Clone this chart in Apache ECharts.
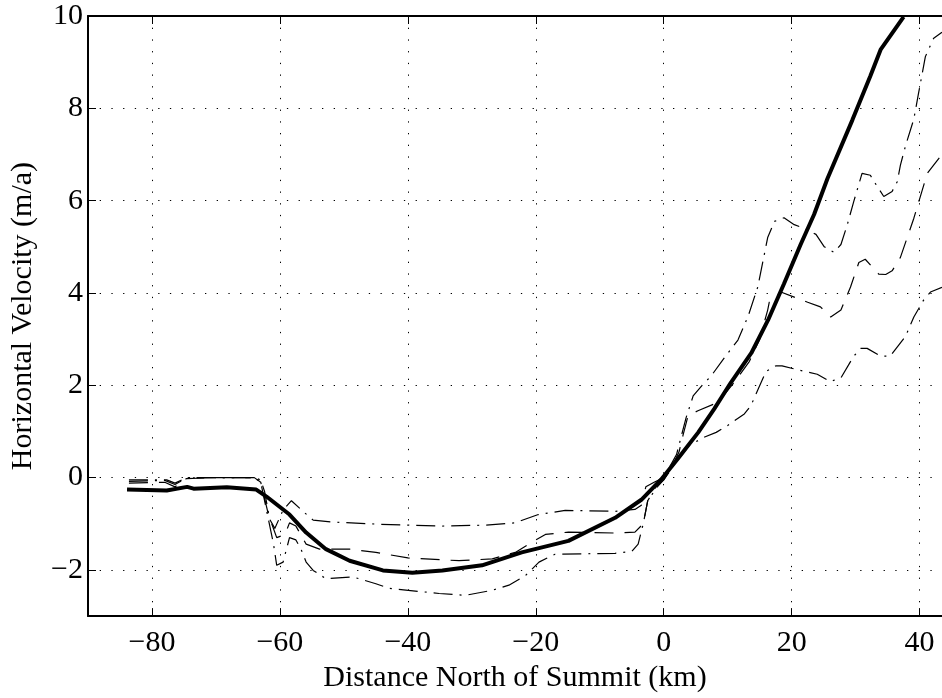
<!DOCTYPE html>
<html>
<head>
<meta charset="utf-8">
<script src="https://cdn.jsdelivr.net/npm/echarts@6/dist/echarts.min.js"></script>
<style>
html,body{margin:0;padding:0;background:#fff;}
#chart{width:942px;height:698px;}
</style>
</head>
<body>
<div id="chart"></div>
<script>
// ---- data ----
const xTicks = [-80, -60, -40, -20, 0, 20, 40];
const yTicks = [-2, 0, 2, 4, 6, 8, 10];

// thick solid line
const mainX = [-83.9,-77.7,-74.5,-73.5,-68.3,-63.7,-62.1,-58.5,-55.9,-52.8,-49.1,-43.9,-39.3,-34.6,-28.4,-22.2,-14.9,-7.6,-3.5,-0.4,2.2,5.4,7.9,10.5,13.7,16.3,18.8,21.4,23.5,25.6,29.5,32.3,33.9,37.5];
const mainY = [-0.26,-0.28,-0.2,-0.24,-0.21,-0.26,-0.41,-0.8,-1.19,-1.55,-1.8,-2.01,-2.06,-2.01,-1.9,-1.62,-1.37,-0.87,-0.48,-0.04,0.41,0.98,1.49,2.06,2.7,3.41,4.2,5.05,5.7,6.48,7.75,8.7,9.27,9.98];

// thin dash-dot line (upper)
const aX = [-83.6,-77.7,-76.4,-74.6,-70,-64,-63,-62.4,-61.6,-60.8,-59.5,-58.2,-56.4,-54.8,-52,-44.5,-35,-28,-23.3,-19.6,-15.4,-7.6,-4.5,-3.5,-2.8,-1.5,0,2,3.5,4.6,6,7.4,9.5,11.6,13.2,14.7,16.25,17.3,18.8,20.4,22,23.8,25.1,26.6,27.7,28.7,29.7,31,32.3,32.9,34.4,35.7,36.5,37,37.8,39.1,39.8,40.9,42.2,43.5];
const aY = [-0.05,-0.05,-0.12,0,0,0,-0.05,-0.3,-0.9,-1.1,-0.7,-0.5,-0.73,-0.92,-0.96,-1.01,-1.05,-1.03,-0.98,-0.8,-0.71,-0.73,-0.69,-0.6,-0.2,-0.1,0.0,0.5,1.3,1.77,2.0,2.2,2.6,2.98,3.5,4.13,5.2,5.55,5.63,5.48,5.4,5.27,5.0,4.88,5.05,5.48,5.98,6.59,6.55,6.41,6.09,6.2,6.41,6.77,7.19,7.77,8.3,9.12,9.52,9.65];

// thin dashed line (middle)
const bX = [-83.6,-78,-76.4,-74.6,-70,-64,-63,-61.8,-60.5,-59.2,-58.5,-57.5,-55.9,-53.8,-49.1,-45,-40,-32,-26.8,-23.2,-21.1,-18.5,-14.9,-7.6,-4.5,-3.2,-2.5,-1.2,0,1.5,2.4,3,3.8,5.35,8.5,11,13.4,15,16.25,16.5,18.3,20.4,22.5,24.5,26.1,27.7,29.2,30.5,31.5,33.6,34.7,35.7,37,39.1,41.2,43.5];
const bY = [-0.12,-0.1,-0.2,-0.02,0,0,-0.1,-0.8,-1.3,-1.23,-0.98,-1.05,-1.44,-1.55,-1.55,-1.62,-1.74,-1.8,-1.76,-1.62,-1.44,-1.23,-1.18,-1.2,-1.18,-1.0,-0.5,-0.2,-0.05,0.3,0.56,0.91,1.34,1.45,1.63,2.06,2.52,3.0,3.63,3.8,4.02,3.91,3.8,3.7,3.48,3.63,4.13,4.66,4.73,4.41,4.4,4.48,4.77,5.62,6.59,7.0];

// thin dash-dot line (lower)
const cX = [-83.6,-78,-76.4,-74.6,-70,-64,-63,-62.4,-61,-60.5,-59.5,-58.5,-57.5,-56.7,-55.9,-54.8,-52.8,-48.6,-45,-42.9,-35.1,-31,-26.8,-24.2,-21.6,-19.5,-17,-7.6,-5,-4,-3.2,-2.5,-1,0,2,4,6.4,8.2,10,12.6,13.6,14.7,16,17.5,18.5,21.7,24,26,27.7,29.7,30.8,31.8,33.9,35.4,37.8,39.1,40.6,41.7,43.5];
const cY = [-0.08,-0.06,-0.15,-0.01,0,0,-0.1,-0.5,-1.44,-1.9,-1.83,-1.3,-1.35,-1.55,-1.83,-2.01,-2.19,-2.15,-2.3,-2.4,-2.51,-2.55,-2.44,-2.33,-2.12,-1.83,-1.66,-1.64,-1.6,-1.44,-1.0,-0.5,-0.2,-0.05,0.35,0.7,0.88,0.98,1.13,1.38,1.55,1.9,2.3,2.42,2.42,2.31,2.24,2.08,2.16,2.63,2.8,2.8,2.63,2.63,3.06,3.48,3.84,4.02,4.12];

// ---- chart ----
const pairs = (xs, ys) => xs.map((x, i) => [x, ys[i]]);
const minus = v => String(v).replace('-', '\u2212');
const FONT = '"Liberation Serif", "DejaVu Serif", serif';

const chart = echarts.init(document.getElementById('chart'), null, {renderer: 'canvas'});
const gridLine = {show: true, lineStyle: {color: '#000', width: 1, type: [1.3, 10.4]}};

chart.setOption({
  animation: false,
  backgroundColor: '#fff',
  grid: {left: 85, right: 0, top: 16, bottom: 76, containLabel: false},
  xAxis: [{
    type: 'value', min: -90, max: 43.5, position: 'bottom',
    name: 'Distance North of Summit (km)', nameLocation: 'middle', nameGap: 42,
    nameTextStyle: {fontFamily: FONT, fontSize: 30, color: '#000'},
    axisLine: {show: true, onZero: false, lineStyle: {color: '#000', width: 2}},
    axisTick: {show: true, inside: true, length: 8, customValues: xTicks, lineStyle: {color: '#000', width: 1}},
    axisLabel: {customValues: xTicks, formatter: minus, margin: 12, fontFamily: FONT, fontSize: 30, color: '#000'},
    splitLine: gridLine
  }, {
    type: 'value', min: -90, max: 43.5, position: 'top',
    axisLine: {show: true, onZero: false, lineStyle: {color: '#000', width: 2}},
    axisTick: {show: true, inside: true, length: 8, customValues: xTicks, lineStyle: {color: '#000', width: 1}},
    axisLabel: {show: false},
    splitLine: {show: false}
  }],
  yAxis: [{
    type: 'value', min: -3, max: 10,
    name: 'Horizontal Velocity (m/a)', nameLocation: 'middle', nameGap: 50, nameRotate: 90,
    nameTextStyle: {fontFamily: FONT, fontSize: 30, color: '#000'},
    axisLine: {show: true, onZero: false, lineStyle: {color: '#000', width: 2}},
    axisTick: {show: true, inside: true, length: 8, customValues: yTicks, lineStyle: {color: '#000', width: 1}},
    axisLabel: {customValues: yTicks, formatter: minus, margin: 5, fontFamily: FONT, fontSize: 30, color: '#000'},
    splitLine: gridLine
  }],
  series: [
    {type: 'line', data: pairs(aX, aY), showSymbol: false, symbol: 'none', clip: true,
     lineStyle: {color: '#000', width: 1.2, type: [19, 7, 2, 7]}},
    {type: 'line', data: pairs(bX, bY), showSymbol: false, symbol: 'none', clip: true,
     lineStyle: {color: '#000', width: 1.2, type: [19, 11]}},
    {type: 'line', data: pairs(cX, cY), showSymbol: false, symbol: 'none', clip: true,
     lineStyle: {color: '#000', width: 1.2, type: [19, 7, 2, 7]}},
    {type: 'line', data: pairs(mainX, mainY), showSymbol: false, symbol: 'none', clip: true,
     lineStyle: {color: '#000', width: 4}}
  ]
});
</script>
</body>
</html>
